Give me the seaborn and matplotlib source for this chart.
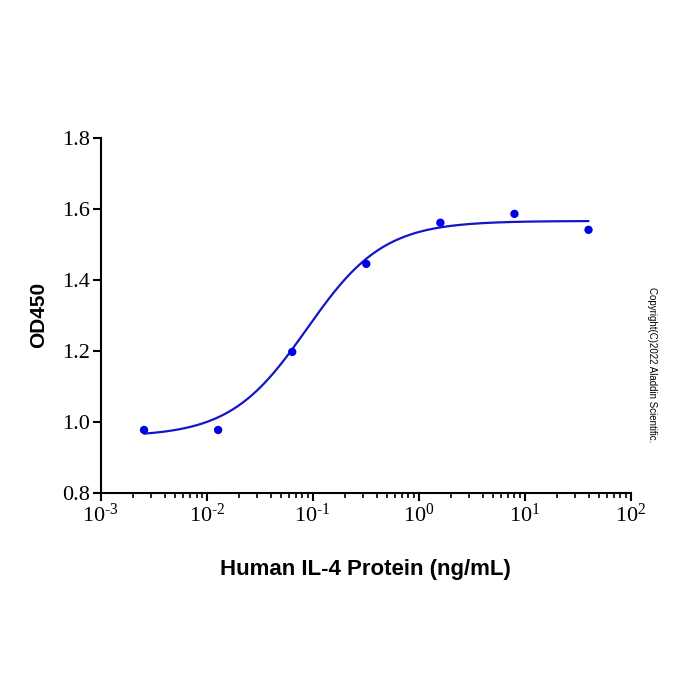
import numpy as np
import pandas as pd
import matplotlib
matplotlib.use("Agg")
import matplotlib.pyplot as plt
import seaborn as sns
from matplotlib.ticker import LogLocator, FuncFormatter

# Data
concentration = [0.00256, 0.0128, 0.064, 0.32, 1.6, 8.0, 40.0]
od450 = [0.977, 0.977, 1.197, 1.445, 1.561, 1.586, 1.541]

# 4PL fit parameters (estimated from the drawn curve)
fit_bottom = 0.958
fit_top = 1.566
fit_ec50 = 0.088
fit_hill = 1.2

sns.set_theme(style="ticks")
plt.rcParams['font.family'] = ['Liberation Serif', 'DejaVu Serif']
plt.rcParams['mathtext.fontset'] = 'custom'
plt.rcParams['mathtext.rm'] = 'Liberation Serif'
plt.rcParams['mathtext.it'] = 'Liberation Serif'
plt.rcParams['mathtext.bf'] = 'Liberation Serif:bold'

fig = plt.figure(figsize=(7, 7), dpi=100)
ax = fig.add_axes([0.144, 0.296, 0.757, 0.507])

xfit = np.logspace(np.log10(concentration[0]), np.log10(concentration[-1]), 300)
yfit = fit_bottom + (fit_top - fit_bottom) / (1 + (fit_ec50 / xfit) ** fit_hill)
curve = pd.DataFrame({"x": xfit, "y": yfit})
pts = pd.DataFrame({"x": concentration, "y": od450})

sns.lineplot(data=curve, x="x", y="y", ax=ax, color="#1414c8", linewidth=1.6)
sns.scatterplot(data=pts, x="x", y="y", ax=ax, color="#0000e6", s=36, edgecolor="none", zorder=3)

ax.set_xscale("log")
ax.set_xlim(1e-3, 1e2)
ax.set_ylim(0.8, 1.8)
ax.set_yticks([0.8, 1.0, 1.2, 1.4, 1.6, 1.8])
ax.set_yticklabels(["0.8", "1.0", "1.2", "1.4", "1.6", "1.8"])
ax.xaxis.set_major_locator(LogLocator(base=10, numticks=10))
ax.xaxis.set_minor_locator(LogLocator(base=10, subs=np.arange(2, 10), numticks=20))


def fmt(v, pos):
    e = int(round(np.log10(v)))
    s = str(e).replace("-", "\u2010")
    return "10$^{" + s + "}$"


ax.xaxis.set_major_formatter(FuncFormatter(fmt))

for s in ["top", "right"]:
    ax.spines[s].set_visible(False)
for s in ["left", "bottom"]:
    ax.spines[s].set_color("black")
    ax.spines[s].set_linewidth(1.5)

ax.tick_params(axis="both", which="major", direction="out", length=6, width=1.5,
               color="black", labelsize=16, labelcolor="black", pad=2)
ax.tick_params(axis="x", which="minor", direction="out", length=3.5, width=1.2, color="black")
for lab in ax.get_xticklabels() + ax.get_yticklabels():
    lab.set_family(["Liberation Serif"])

ax.set_xlabel("Human IL-4 Protein (ng/mL)", family=["Liberation Sans"], fontweight="bold",
              fontsize=16, color="black", labelpad=23)
ax.set_ylabel("OD450", family=["Liberation Sans"], fontweight="bold",
              fontsize=15, color="black", labelpad=10)

fig.text(0.931, 0.479, "Copyright(C)2022 Aladdin Scientific.", rotation=-90,
         family=["Liberation Sans"], fontsize=7, color="black", ha="center", va="center")

fig.savefig("out.png", dpi=100, facecolor="white")
